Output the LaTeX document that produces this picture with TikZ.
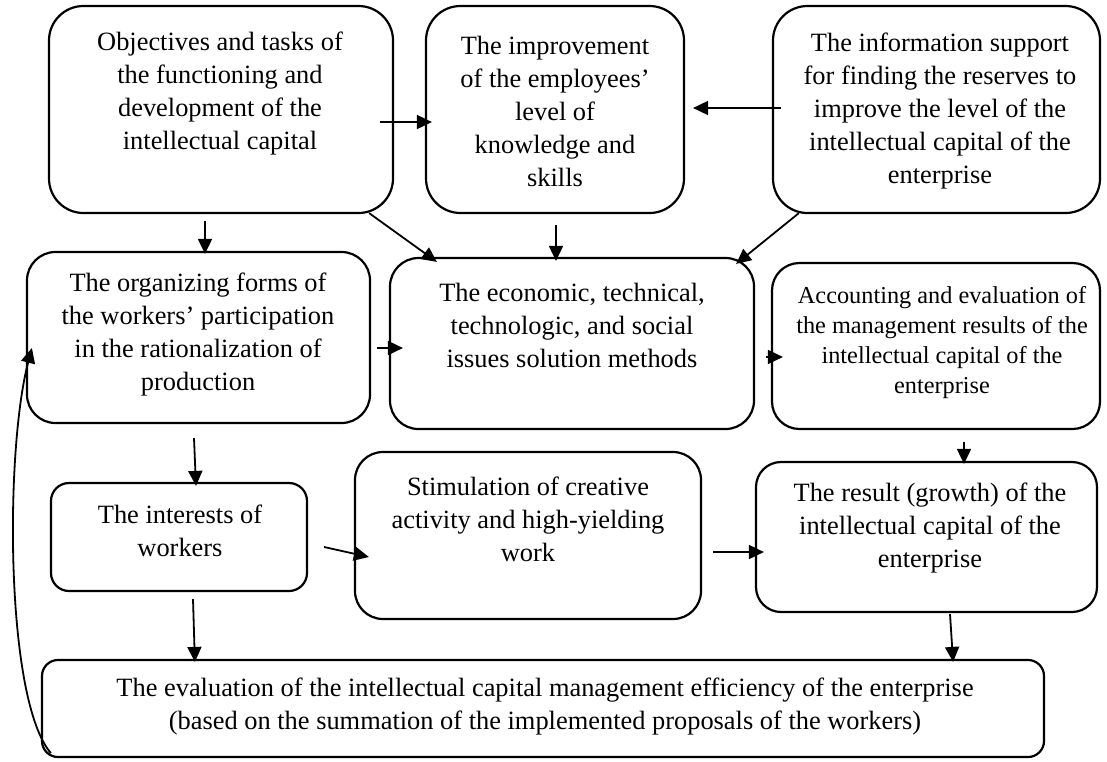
\documentclass[tikz,border=0pt]{standalone}
\usepackage{fontspec}
\setmainfont{Liberation Serif}
\usetikzlibrary{arrows.meta,calc}
\newcommand{\mainsz}{\fontsize{26.4}{33}\selectfont}
\newcommand{\accsz}{\fontsize{24.3}{30}\selectfont}
\begin{document}
\begin{tikzpicture}[x=1pt,y=-1pt,
  bx/.style={draw, line width=2.2pt, inner sep=0pt},
  txt/.style={align=center, inner sep=0pt, font=\mainsz},
  arr/.style={line width=1.8pt, -{Triangle[length=15pt,width=14pt]}}]
\fill[white] (0,0) rectangle (1107,761);
\useasboundingbox (0,0) rectangle (1107,761);

% boxes
\node[bx, minimum width=344pt, minimum height=207pt, rounded corners=34.5pt] (A) at (221,109.5) {};
\node[bx, minimum width=258pt, minimum height=207pt, rounded corners=34.5pt] (B) at (555,109.5) {};
\node[bx, minimum width=327pt, minimum height=207pt, rounded corners=34.5pt] (C) at (936.5,109.5) {};
\node[bx, minimum width=343pt, minimum height=171pt, rounded corners=28.5pt] (E) at (198.5,337.5) {};
\node[bx, minimum width=364pt, minimum height=171pt, rounded corners=28.5pt] (D) at (572,343.5) {};
\node[bx, minimum width=328pt, minimum height=166pt, rounded corners=27.5pt] (G) at (936,346) {};
\node[bx, minimum width=256pt, minimum height=108pt, rounded corners=18pt] (J) at (179,537) {};
\node[bx, minimum width=346pt, minimum height=167pt, rounded corners=28pt] (I) at (528,535.5) {};
\node[bx, minimum width=341pt, minimum height=150pt, rounded corners=25pt] (H) at (926.5,537) {};
\node[bx, minimum width=1002pt, minimum height=97pt, rounded corners=16pt] (F) at (543,708.5) {};

% texts
\node[txt] (At) at (220,93.5) {Objectives and tasks of\\the functioning and\\development of the\\intellectual capital};
\node[txt] (Bt) at (555,111) {The improvement\\of the employees’\\level of\\knowledge and\\skills};
\node[txt] (Ct) at (940,111) {The information support\\for finding the reserves to\\improve the level of the\\intellectual capital of the\\enterprise};
\node[txt] (Et) at (198,335) {The organizing forms of\\the workers’ participation\\in the rationalization of\\production};
\node[txt] (Dt) at (572,325.5) {The economic, technical,\\technologic, and social\\issues solution methods};
\node[txt, font=\accsz] (Gt) at (942,342.5) {Accounting and evaluation of\\the management results of the\\intellectual capital of the\\enterprise};
\node[txt] (Jt) at (180,530.5) {The interests of\\workers};
\node[txt] (It) at (528,519) {Stimulation of creative\\activity and high-yielding\\work};
\node[txt] (Ht) at (930,528) {The result (growth) of the\\intellectual capital of the\\enterprise};
\node[txt] (Ft) at (545,706.5) {The evaluation of the intellectual capital management efficiency of the enterprise\\(based on the summation of the implemented proposals of the workers)};

% connectors
\draw[arr] ($(A.east)+(-14,12.5)$) -- ($(B.west)+(7,12.5)$);
\draw[arr] ($(C.west)+(9,-1.5)$) -- ($(B.east)+(8,-1.5)$);
\draw[arr] ($(A.south)+(-16,7)$) -- ($(E.north)+(6.5,3)$);
\draw[arr] ($(A.south east)+(-25,-1)$) -- ($(D.north west)+(48,5)$);
\draw[arr] ($(B.south)+(1,11)$) -- ($(D.north)+(-16,4)$);
\draw[arr] ($(C.south west)+(27,-1)$) -- ($(D.north east)+(-19,7)$);
\draw[arr] ($(E.east)+(6,10.5)$) -- ($(D.west)+(14,4.5)$);
\draw[arr] ($(D.east)+(11,13.5)$) -- ($(G.west)+(12,11)$);
\draw[arr] ($(G.south)+(28,12)$) -- ($(H.north)+(37.5,3)$);
\draw[arr] ($(E.south)+(-4.5,14)$) -- ($(J.north)+(17,4)$);
\draw[arr] ($(J.east)+(16,10)$) -- ($(I.west)+(15,21.5)$);
\draw[arr] ($(I.east)+(11,16.5)$) -- ($(H.west)+(9,15)$);
\draw[arr] ($(J.south)+(14,7)$) -- ($(F.north west)+(154,3)$);
\draw[arr] ($(H.south)+(23.5,1)$) -- ($(F.north east)+(-92,3)$);
\coordinate (fbs) at ($(F.south west)+(10,-5)$);
\coordinate (fbe) at ($(E.west)+(6,10.5)$);
\draw[arr] (fbs) .. controls (5,700) and (5,450) .. (fbe);
\end{tikzpicture}
\end{document}
